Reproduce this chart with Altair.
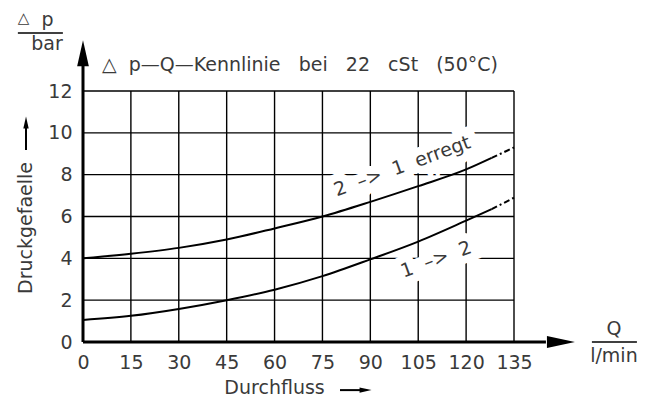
import altair as alt
import pandas as pd

# ---- data ----
q_solid = [0, 15, 30, 45, 60, 75, 90, 105, 120, 128]
dp_21_solid = [4.0, 4.22, 4.5, 4.9, 5.43, 6.0, 6.7, 7.45, 8.25, 8.8]
dp_12_solid = [1.05, 1.25, 1.58, 2.0, 2.5, 3.15, 3.95, 4.8, 5.8, 6.35]
q_dash = [128, 135]
dp_21_dash = [8.8, 9.3]
dp_12_dash = [6.35, 6.9]
x_ticks = [0, 15, 30, 45, 60, 75, 90, 105, 120, 135]
y_ticks = [0, 2, 4, 6, 8, 10, 12]

SP = "\u00a0\u00a0 "
title_text = "\u25b3\u00a0 p\u2014Q\u2014Kennlinie" + SP + "bei" + SP + "22" + SP + "cSt" + SP + "(50\u00b0C)"
label_21 = "2 \u00a0\u2013> \u00a01 \u00a0erregt"
label_12 = "1 \u00a0\u2013> \u00a02"

FONT = "DejaVu Sans"
TXT = "#3a3a3a"
FS = 19

xs = alt.Scale(domain=[0, 135], nice=False, zero=False)
ys = alt.Scale(domain=[0, 12], nice=False, zero=False)

x_axis = alt.Axis(values=x_ticks, grid=False, domain=False, ticks=False, title=None,
                  labelFont=FONT, labelFontSize=FS, labelColor=TXT, labelPadding=11,
                  labelFlush=False)
y_axis = alt.Axis(values=y_ticks, grid=False, domain=False, ticks=False, title=None,
                  labelFont=FONT, labelFontSize=FS, labelColor=TXT, labelPadding=11)


def X(field="x"):
    return alt.X(f"{field}:Q", scale=xs, axis=x_axis)


def Y(field="y"):
    return alt.Y(f"{field}:Q", scale=ys, axis=y_axis)


# grid lines
vgrid = alt.Chart(pd.DataFrame({"x": x_ticks, "y": [0] * len(x_ticks), "y2": [12] * len(x_ticks)})).mark_rule(
    color="black", strokeWidth=1.4).encode(x=X(), y=Y(), y2="y2:Q")
hgrid = alt.Chart(pd.DataFrame({"y": y_ticks, "x": [0] * len(y_ticks), "x2": [135] * len(y_ticks)})).mark_rule(
    color="black", strokeWidth=1.4).encode(y=Y(), x=X(), x2="x2:Q")

# curve labels (halo + text)
lab = pd.DataFrame({"x": [100.0, 110.6], "y": [8.4, 3.95], "t": [label_21, label_12]})
halo = alt.Chart(lab).mark_text(font=FONT, fontSize=FS, angle=340, color="white", stroke="white",
                                strokeWidth=16, align="center", baseline="middle").encode(
    x=X(), y=Y(), text="t:N")
labtxt = alt.Chart(lab).mark_text(font=FONT, fontSize=FS, angle=340, color=TXT,
                                  align="center", baseline="middle").encode(
    x=X(), y=Y(), text="t:N")

# curves
solid = pd.DataFrame({
    "x": q_solid + q_solid,
    "y": dp_21_solid + dp_12_solid,
    "s": ["21"] * len(q_solid) + ["12"] * len(q_solid),
})
dash = pd.DataFrame({
    "x": q_dash + q_dash,
    "y": dp_21_dash + dp_12_dash,
    "s": ["21"] * len(q_dash) + ["12"] * len(q_dash),
})
curves = alt.Chart(solid).mark_line(color="black", strokeWidth=2, interpolate="monotone").encode(
    x=X(), y=Y(), detail="s:N")
curves_d = alt.Chart(dash).mark_line(color="black", strokeWidth=2, strokeDash=[6, 3, 2, 3]).encode(
    x=X(), y=Y(), detail="s:N")

# axis lines with arrows
xaxis = alt.Chart(pd.DataFrame({"x": [0], "x2": [145], "y": [0]})).mark_rule(
    color="black", strokeWidth=3).encode(x=X(), x2="x2:Q", y=Y())
yaxis = alt.Chart(pd.DataFrame({"x": [0], "y": [0], "y2": [13.6]})).mark_rule(
    color="black", strokeWidth=3).encode(x=X(), y=Y(), y2="y2:Q")
xhead = alt.Chart(pd.DataFrame({"x": [149.7], "y": [0]})).mark_point(
    shape="M-1,-0.43L1,0L-1,0.43Z", size=784, filled=True, color="black", opacity=1, strokeWidth=0).encode(
    x=X(), y=Y())
yhead = alt.Chart(pd.DataFrame({"x": [0], "y": [13.81]})).mark_point(
    shape="M-0.45,1L0,-1L0.45,1Z", size=676, filled=True, color="black", opacity=1, strokeWidth=0).encode(
    x=X(), y=Y())

# small arrows next to the axis titles
xarrow = alt.Chart(pd.DataFrame({"x": [80.5], "x2": [87.0], "y": [-2.3]})).mark_rule(
    color="black", strokeWidth=2).encode(x=X(), x2="x2:Q", y=Y())
xarrowh = alt.Chart(pd.DataFrame({"x": [88.5], "y": [-2.3]})).mark_point(
    shape="M-1,-0.45L1,0L-1,0.45Z", size=144, filled=True, color="black", opacity=1, strokeWidth=0).encode(
    x=X(), y=Y())
yarrow = alt.Chart(pd.DataFrame({"x": [-17.85], "y": [9.18], "y2": [10.3]})).mark_rule(
    color="black", strokeWidth=2).encode(x=X(), y=Y(), y2="y2:Q")
yarrowh = alt.Chart(pd.DataFrame({"x": [-17.85], "y": [10.5]})).mark_point(
    shape="M-0.45,1L0,-1L0.45,1Z", size=144, filled=True, color="black", opacity=1, strokeWidth=0).encode(
    x=X(), y=Y())

# fraction bars for the units
fracs = alt.Chart(pd.DataFrame({"x": [-20.4, 159.4], "x2": [-6.3, 173.5], "y": [14.77, 0.0]})).mark_rule(
    color="black", strokeWidth=1.5).encode(x=X(), x2="x2:Q", y=Y())

# texts
ctexts = pd.DataFrame({
    "x": [166.3, 166.3, 60.0],
    "y": [0.62, -0.67, -2.2],
    "t": ["Q", "l/min", "Durchfluss"],
})
ctxt = alt.Chart(ctexts).mark_text(font=FONT, fontSize=FS, color=TXT, baseline="middle", align="center").encode(
    x=X(), y=Y(), text="t:N")
btexts = pd.DataFrame({
    "x": [-11.1, -11.3],
    "y": [15.11, 13.96],
    "t": ["p", "bar"],
})
btxt = alt.Chart(btexts).mark_text(font=FONT, fontSize=FS, color=TXT, baseline="alphabetic", align="center").encode(
    x=X(), y=Y(), text="t:N")
tri = alt.Chart(pd.DataFrame({"x": [-18.6], "y": [15.25], "t": ["\u25b3"]})).mark_text(
    font=FONT, fontSize=15, color=TXT, baseline="alphabetic", align="center").encode(
    x=X(), y=Y(), text="t:N")
ttxt = alt.Chart(pd.DataFrame({"x": [5.95], "y": [13.24], "t": [title_text]})).mark_text(
    font=FONT, fontSize=FS, color=TXT, baseline="middle", align="left").encode(
    x=X(), y=Y(), text="t:N")
vtxt = alt.Chart(pd.DataFrame({"x": [-17.85], "y": [5.45], "t": ["Druckgefaelle"]})).mark_text(
    font=FONT, fontSize=FS, color=TXT, baseline="middle", align="center", angle=270).encode(
    x=X(), y=Y(), text="t:N")

chart = alt.layer(
    vgrid, hgrid, halo, curves, curves_d, labtxt,
    xaxis, yaxis, xhead, yhead, xarrow, xarrowh, yarrow, yarrowh, fracs,
    ctxt, btxt, tri, ttxt, vtxt,
).properties(
    width=431, height=251,
    padding={"left": 75, "top": 83, "right": 134, "bottom": 58},
    autosize=alt.AutoSizeParams(type="none"),
    background="white",
).configure_view(stroke=None)

chart.save("out.html", embed_options={"renderer": "svg", "actions": False})
